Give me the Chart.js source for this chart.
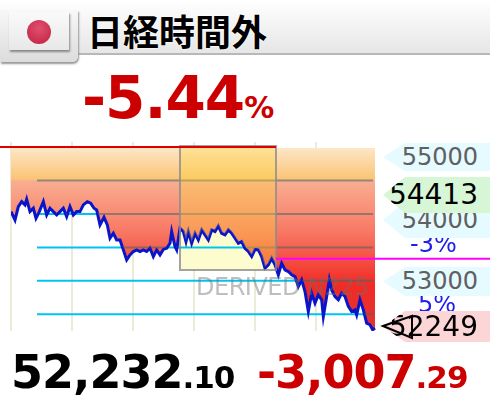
<!DOCTYPE html>
<html lang="ja">
<head>
<meta charset="UTF-8" />
<title>日経時間外</title>
<script src="https://cdn.jsdelivr.net/npm/chart.js"></script>
<style>
  body { margin: 0; width: 490px; height: 405px; overflow: hidden; background: #fff; font-family: "DejaVu Sans", sans-serif; position: relative; }
  #header { position: absolute; left: 0; top: 0; width: 490px; height: 53px; background: linear-gradient(#ffffff, #e6e6e6); border-bottom: 2px solid #b8b8b8; }
  #tab { position: absolute; left: 0; top: 10px; width: 78px; height: 52px; background: linear-gradient(#f8f8f8, #dcdcdc); border-radius: 0 0 6px 0; box-shadow: 1px 2px 2px #999; }
  #flag { position: absolute; left: 9px; top: 12px; width: 60px; height: 38px; background: linear-gradient(#fafafa, #e8e8e8); box-shadow: 1px 2px 2px #888; }
  #flag div { position: absolute; left: 18px; top: 8px; width: 24px; height: 24px; border-radius: 50%; background: radial-gradient(circle at 50% 35%, #e05070, #c02040); }
  #title { position: absolute; left: 87px; top: 4px; font: bold 36px "Noto Sans CJK JP", sans-serif; color: #000; text-shadow: 0 0 2px #fff, 0 0 2px #fff; }
  #pct { position: absolute; left: 82px; top: 64px; font: bold 58px "DejaVu Sans", sans-serif; color: #cc0000; letter-spacing: -1px; }
  #pct span { font-size: 30px; }
  .big { position: absolute; top: 345px; font: bold 46px "DejaVu Sans", sans-serif; letter-spacing: -1px; }
  .big span { font-size: 31px; }
  #chartwrap { position: absolute; left: 0; top: 0; width: 490px; height: 405px; }
  .tag { position: absolute; left: 383px; width: 107px; clip-path: polygon(0 50%, 22px 0, 100% 0, 100% 100%, 22px 100%); text-align: right; padding-right: 12px; box-sizing: border-box; font-family: "DejaVu Sans", sans-serif; }
  .pctlbl { position: absolute; font: 24px "DejaVu Sans", sans-serif; color: #2020ee; }
  #wm { position: absolute; left: 196px; top: 273px; font: 24px "DejaVu Sans", sans-serif; color: rgba(110,110,110,0.45); letter-spacing: -0.5px; }
</style>
</head>
<body>
<div id="header"></div>
<div id="tab"></div>
<div id="flag"><div></div></div>
<div id="title">日経時間外</div>
<div id="pct">-5.44<span>%</span></div>

<div id="chartwrap"><canvas id="myChart" width="490" height="405"></canvas></div>
<div id="wm">DERIVED N225</div>

<div class="pctlbl" style="left:410px;top:230px">-3%</div>
<div class="pctlbl" style="left:418px;top:290px">5%</div>
<div class="tag" style="top:143px;height:28px;background:#e6fbff;color:#606060;font-size:24px;line-height:28px">55000</div>
<div class="tag" style="top:202px;height:36px;background:#e6fbff;color:#606060;font-size:24px;line-height:36px">54000</div>
<div class="tag" style="top:267px;height:29px;background:#e6fbff;color:#606060;font-size:24px;line-height:29px">53000</div>
<div class="tag" style="top:177px;height:36px;background:#d6f6d6;color:#000;font-size:28px;line-height:36px">54413</div>
<div class="tag" style="top:311px;height:31px;background:#fcd6d6;color:#000;font-size:28px;line-height:31px">52249</div>
<svg style="position:absolute;left:380px;top:312px" width="40" height="30"><polygon points="3,14 32,4 32,26" fill="none" stroke="#000" stroke-width="2"/></svg>

<div class="big" style="left:11px;color:#000">52,232<span>.10</span></div>
<div class="big" style="left:257px;color:#cc0000">-3,007<span>.29</span></div>

<script>
  // time position (arbitrary units) and price
  const times = [33,45,55,65,75,80,90,100,108,118,130,140,150,160,170,180,190,200,210,220,230,240,250,262,272,282,290,300,312,322,330,340,350,360,370,380,390,400,410,420,430,440,450,460,470,480,490,500,510,515,525,530,540,550,558,565,575,585,595,605,615,625,635,645,655,665,675,685,695,705,715,725,735,745,755,765,775,785,795,805,815,825,835,845,855,865,875,885,895,905,915,925,935,945,955,965,970,980,988,995,1005,1015,1025,1035,1045,1055,1065,1070,1080,1090,1100,1110,1118,1125];
  const prices = [54035,53910,54110,54184,54135,54219,54035,54085,53935,54035,54184,53985,54085,54035,53985,54035,54085,53960,54110,53985,54035,54035,54135,54184,54160,54085,54060,53836,53950,53836,53637,53711,53612,53612,53463,53313,53388,53438,53463,53438,53463,53438,53487,53363,53463,53388,53470,53487,53562,53736,53512,53463,53786,53736,53587,53736,53562,53711,53612,53761,53687,53612,53761,53736,53821,53711,53687,53761,53711,53637,53562,53587,53487,53438,53363,53470,53463,53363,53189,53239,53338,53239,53089,53264,53164,53139,53089,53064,52915,53015,52840,52542,52815,52666,52791,52716,52467,52766,53015,52865,52766,52716,52815,52766,52617,52542,52567,52492,52716,52567,52368,52343,52268,52293];
  const gridPrices = [54500, 54000, 53500, 53000, 52500];
  const prevClose = 55000;
  const limitLine = 53330;
  const timeTicks = [33, 216, 399, 582, 765, 948];

  const overlay = {
    id: "overlay",
    beforeDatasetsDraw(chart) {
      const { ctx, chartArea, scales: { x, y } } = chart;
      const x0 = 37, x1 = 373;
      ctx.save();
      ctx.lineWidth = 2;
      ctx.strokeStyle = "#ecebd8";
      timeTicks.forEach(t => { const px = x.getPixelForValue(t); ctx.beginPath(); ctx.moveTo(px, 142); ctx.lineTo(px, 331); ctx.stroke(); });
      ctx.fillStyle = "#fdfccf";
      ctx.fillRect(180, 146, 96, 124);
      ctx.strokeStyle = "#00c4f0";
      gridPrices.forEach(p => { const py = y.getPixelForValue(p); ctx.beginPath(); ctx.moveTo(x0, py); ctx.lineTo(x1, py); ctx.stroke(); });
      ctx.restore();
    },
    afterDatasetsDraw(chart) {
      const { ctx, chartArea, scales: { x, y } } = chart;
      const x0 = 37, x1 = 373;
      const pts = chart.getDatasetMeta(0).data;
      ctx.save();
      // region above the price line
      ctx.beginPath();
      ctx.moveTo(pts[0].x, chartArea.top - 4);
      pts.forEach(p => ctx.lineTo(p.x, p.y - 1.5));
      ctx.lineTo(pts[pts.length - 1].x, chartArea.top - 4);
      ctx.closePath();
      ctx.clip();
      ctx.strokeStyle = "rgba(70,100,100,0.55)";
      ctx.lineWidth = 2;
      gridPrices.forEach(p => { const py = y.getPixelForValue(p); ctx.beginPath(); ctx.moveTo(x0, py); ctx.lineTo(x1, py); ctx.stroke(); });
      ctx.fillStyle = "rgba(255,215,60,0.35)";
      ctx.fillRect(180, 146, 96, 124);
      ctx.restore();
      ctx.save();
      ctx.lineWidth = 2;
      ctx.strokeStyle = "rgba(140,140,140,0.8)";
      ctx.strokeRect(180, 146, 96, 124);
      ctx.strokeStyle = "#dd0000";
      const ry = y.getPixelForValue(prevClose);
      ctx.beginPath(); ctx.moveTo(0, ry); ctx.lineTo(276, ry); ctx.stroke();
      ctx.strokeStyle = "#ff00ff";
      const my = y.getPixelForValue(limitLine);
      ctx.beginPath(); ctx.moveTo(276, my); ctx.lineTo(490, my); ctx.stroke();
      ctx.restore();
    }
  };

  const ctx = document.getElementById("myChart").getContext("2d");
  const grad = ctx.createLinearGradient(0, 148, 0, 331);
  grad.addColorStop(0, "#fde6c6");
  grad.addColorStop(0.17, "#fbc476");
  grad.addColorStop(0.18, "#f8ae90");
  grad.addColorStop(0.45, "#f87a66");
  grad.addColorStop(0.75, "#f22a24");
  grad.addColorStop(1, "#e03434");

  new Chart(ctx, {
    type: "line",
    data: {
      datasets: [{
        data: times.map((t, i) => ({ x: t, y: prices[i] })),
        borderColor: "#0a14c8",
        borderWidth: 3,
        pointRadius: 0,
        tension: 0,
        fill: "end",
        backgroundColor: grad
      }]
    },
    options: {
      responsive: false,
      animation: false,
      layout: { padding: { left: 11, right: 114, top: 148, bottom: 74 } },
      plugins: { legend: { display: false }, tooltip: { enabled: false } },
      scales: {
        x: { type: "linear", min: 33, max: 1128, display: false },
        y: { min: 52250, max: 54986, display: false }
      }
    },
    plugins: [overlay]
  });
</script>
</body>
</html>
